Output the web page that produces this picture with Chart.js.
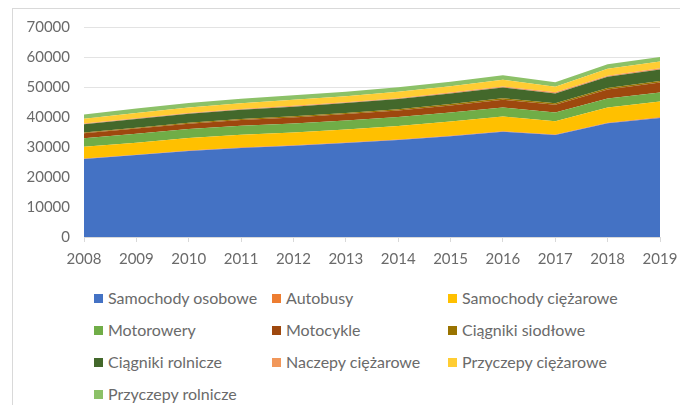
<!DOCTYPE html>
<html>
<head>
<meta charset="utf-8">
<script src="https://cdn.jsdelivr.net/npm/chart.js@4.4.0/dist/chart.umd.min.js"></script>
<style>
  body { margin: 0; background: #fff; font-family: Lato, sans-serif; }
  #wrap { position: relative; width: 680px; height: 405px; overflow: hidden; }
  #frame { position: absolute; left: 12px; top: 8px; width: 700px; height: 420px;
           border-left: 1px solid #d9d9d9; border-top: 1px solid #d9d9d9; }
  #chartBox { position: absolute; left: 0; top: 0; width: 680px; height: 280px; }
  .leg { position: absolute; font-size: 16px; color: #6a6a6a; white-space: nowrap; line-height: 18px; }
  .leg span { display: inline-block; width: 9px; height: 9px; margin-right: 5px; vertical-align: 1px; }
</style>
</head>
<body>
<div id="wrap">
  <div id="frame"></div>
  <div id="chartBox"><canvas id="vehChart"></canvas></div>
  <div id="legend"></div>
</div>
<script>
const years = ['2008','2009','2010','2011','2012','2013','2014','2015','2016','2017','2018','2019'];
const yTicks = [0, 10000, 20000, 30000, 40000, 50000, 60000, 70000];

// values (stacked layers, bottom to top)
const samochodyOsobowe   = [26000, 27300, 28700, 29700, 30400, 31300, 32300, 33600, 35100, 34000, 37900, 39700];
const autobusy           = [150, 150, 160, 160, 160, 170, 170, 170, 180, 180, 190, 190];
const samochodyCiezarowe = [3900, 4000, 4100, 4200, 4300, 4400, 4500, 4700, 4900, 4400, 5100, 5300];
const motorowery         = [2900, 3000, 3000, 3000, 3000, 3000, 3000, 3000, 3000, 2900, 3000, 3000];
const motocykle          = [1600, 1700, 1800, 1900, 2000, 2100, 2200, 2400, 2600, 2600, 3000, 3300];
const ciagnikiSiodlowe   = [300, 300, 320, 340, 360, 380, 400, 430, 460, 470, 500, 530];
const ciagnikiRolnicze   = [2700, 2900, 3000, 3100, 3200, 3300, 3400, 3500, 3600, 3300, 3700, 3800];
const naczepyCiezarowe   = [250, 260, 270, 280, 290, 300, 320, 340, 360, 370, 390, 410];
const przyczepyCiezarowe = [1600, 1700, 1800, 1900, 2000, 2000, 2100, 2100, 2200, 1900, 2300, 2300];
const przyczepyRolnicze  = [1400, 1500, 1500, 1500, 1500, 1500, 1500, 1500, 1500, 1500, 1500, 1500];

const seriesNames = ['Samochody osobowe', 'Autobusy', 'Samochody ciężarowe', 'Motorowery', 'Motocykle',
  'Ciągniki siodłowe', 'Ciągniki rolnicze', 'Naczepy ciężarowe', 'Przyczepy ciężarowe', 'Przyczepy rolnicze'];
const seriesData = [samochodyOsobowe, autobusy, samochodyCiezarowe, motorowery, motocykle,
  ciagnikiSiodlowe, ciagnikiRolnicze, naczepyCiezarowe, przyczepyCiezarowe, przyczepyRolnicze];
const colors = ['#4472C4', '#ED7D31', '#FFC000', '#70AD47', '#9E480E',
  '#997300', '#43682B', '#F1975A', '#FFCD33', '#8CC168'];

const datasets = seriesNames.map((name, i) => ({
    label: name,
    data: seriesData[i],
    backgroundColor: colors[i],
    borderColor: colors[i],
    borderWidth: 0,
    pointRadius: 0,
    fill: i === 0 ? 'origin' : '-1',
    tension: 0
}));

const ctx = document.getElementById('vehChart').getContext('2d');
const vehChart = new Chart(ctx, {
    type: 'line',
    data: { labels: years, datasets: datasets },
    options: {
        responsive: true,
        maintainAspectRatio: false,
        animation: false,
        layout: { padding: { top: 27, right: 20, left: 0, bottom: 0 } },
        plugins: {
            legend: { display: false },
            tooltip: { enabled: false }
        },
        scales: {
            x: {
                offset: false,
                ticks: { color: '#6a6a6a', font: { family: 'Lato', size: 15 }, padding: 8, maxRotation: 0, autoSkip: false },
                grid: { drawOnChartArea: false, drawTicks: true, tickLength: 5, color: '#d9d9d9' },
                border: { color: '#d9d9d9' },
                afterFit: s => { s.height = 43; s.paddingLeft = 0; s.paddingRight = 0; }
            },
            y: {
                stacked: true,
                min: 0,
                max: 70000,
                afterBuildTicks: s => { s.ticks = yTicks.map(v => ({ value: v })); },
                ticks: { color: '#6a6a6a', font: { family: 'Lato', size: 15 }, padding: 14,
                         callback: v => String(v) },
                grid: { color: '#e3e3e3', drawTicks: false },
                border: { display: false },
                afterFit: s => { s.width = 84; }
            }
        }
    }
});

// legend in three columns like the original
const legCols = [94, 272, 448];
const legRows = [289, 321, 353, 385];
const legend = document.getElementById('legend');
seriesNames.forEach((name, i) => {
    const el = document.createElement('div');
    el.className = 'leg';
    el.style.left = legCols[i % 3] + 'px';
    el.style.top = legRows[Math.floor(i / 3)] + 'px';
    el.innerHTML = '<span style="background:' + colors[i] + '"></span>' + name;
    legend.appendChild(el);
});
</script>
</body>
</html>
